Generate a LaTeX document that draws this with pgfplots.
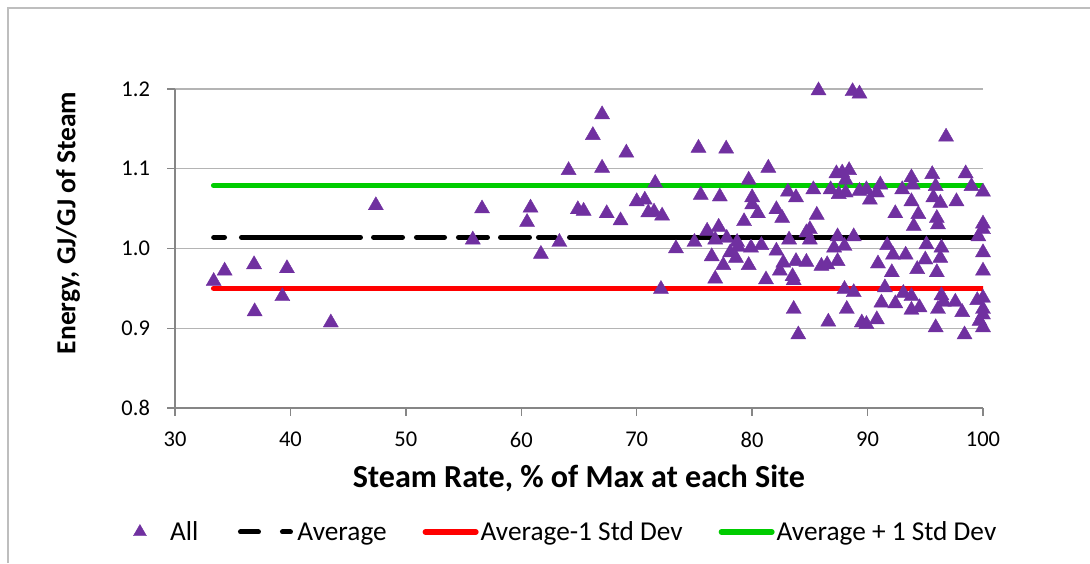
\documentclass[border=0pt]{standalone}
\usepackage{pgfplots}
\pgfplotsset{compat=1.18}
\usepackage{fontspec}
\setmainfont{Carlito}
\definecolor{mypurple}{RGB}{112,48,160}
\definecolor{mygreen}{RGB}{0,204,0}
\definecolor{myred}{RGB}{255,0,0}
\definecolor{axisgray}{RGB}{134,134,134}
\definecolor{gridgray}{RGB}{180,180,180}
\definecolor{framegray}{RGB}{190,190,190}
\pgfplotsset{
  scatterlegend/.style={legend image code/.code={\path (0pt,0pt) (56pt,0pt); \draw[mark repeat=2,mark phase=2,##1, mark size=7.5pt] plot coordinates {(0pt,0pt) (28pt,0pt) (56pt,0pt)};}},
  avglegend/.style={legend image code/.code={\draw[black, line width=5pt, line cap=round] (3.5pt,0pt) -- (21.5pt,0pt); \draw[black, line width=5pt, line cap=round] (45.5pt,0pt) -- (53.5pt,0pt); \path (0pt,0pt) (56pt,0pt);}},
  linelegend/.style={legend image code/.code={\draw[##1, line cap=round] (2.75pt,0pt) -- (53.25pt,0pt);}},
}
\begin{document}
\begin{tikzpicture}[x=1pt,y=1pt]
\path[use as bounding box] (0,0) rectangle (1090,563);
\draw[framegray, line width=1.3pt] (8,0) -- (8,555) -- (1090,555);
\begin{axis}[
  at={(175pt,155pt)}, anchor=south west,
  scale only axis, width=808pt, height=319pt,
  xmin=30, xmax=100, ymin=0.8, ymax=1.2,
  xtick={30,40,...,100}, ytick={0.8,0.9,1.0,1.1,1.2},
  axis lines=left,
  axis line style={-, draw=axisgray, line width=1.5pt},
  tick align=outside, tick pos=left,
  major tick length=7.5pt,
  every tick/.style={axisgray, line width=1.3pt},
  ymajorgrids,
  major grid style={gridgray, line width=1.3pt},
  /pgf/number format/assume math mode=true,
  yticklabel style={/pgf/number format/.cd, fixed, fixed zerofill, precision=1, /tikz/.cd, xshift=-14pt},
  xticklabel style={yshift=-13pt},
  ticklabel style={font=\fontsize{22.5}{26}\selectfont},
  xlabel={\textbf{Steam Rate, \% of Max at each Site}},
  ylabel={\textbf{Energy, GJ/GJ of Steam}},
  xlabel style={font=\fontsize{32.1}{36}\selectfont, at={(axis description cs:0.5,-0.2194)}, anchor=center},
  ylabel style={font=\fontsize{27.5}{32}\selectfont, at={(axis description cs:-0.1324,0.58)}, anchor=center},
  unbounded coords=jump,
  legend columns=4,
  legend style={at={(axis description cs:0.4703,-0.3887)}, anchor=center, draw=none,
    font=\fontsize{27.3}{32}\selectfont, inner sep=0pt,
    nodes={inner sep=2pt},
    /tikz/every even column/.append style={column sep=34pt}},
  linelegend,
]
\addplot[only marks, mark=triangle*, mark size=8.7pt,
  mark options={fill=mypurple, draw=mypurple, line width=0.4pt}, scatterlegend]
coordinates {
(33.35,0.959) (34.3,0.972) (36.85,0.980) (36.9,0.921) (39.7,0.975) (39.3,0.940)
(43.5,0.907) (47.4,1.054) (55.8,1.011) (56.6,1.050) (60.5,1.033) (60.8,1.051)
(61.7,0.993) (63.3,1.008) (64.1,1.098) (64.9,1.049) (65.4,1.047) (66.2,1.142)
(67.0,1.168) (67.0,1.101) (67.4,1.044) (68.6,1.035) (69.1,1.120)
(75.35,1.126) (77.75,1.125) (85.75,1.198) (81.4,1.101) (71.6,1.082) (79.7,1.086)
(83.1,1.071) (85.3,1.074) (70.0,1.059) (70.7,1.061) (75.55,1.067) (77.2,1.065)
(80.0,1.064) (83.8,1.064) (71.0,1.045) (71.5,1.046) (72.2,1.041) (80.0,1.055)
(80.5,1.044) (82.1,1.049) (82.6,1.038) (79.3,1.034) (85.6,1.042) (85.0,1.024)
(84.7,1.020) (85.0,1.011) (76.1,1.022) (77.1,1.027) (76.8,1.011) (77.8,1.013)
(78.7,1.008) (75.0,1.008) (73.4,1.000) (78.8,1.002) (79.9,1.001) (80.8,1.004)
(83.2,1.011) (82.1,0.997) (76.5,0.990) (78.1,0.995) (78.6,0.988) (77.5,0.979)
(79.7,0.979) (82.7,0.982) (83.8,0.984) (84.7,0.983) (86.0,0.978) (86.5,0.980)
(82.4,0.972) (83.5,0.965) (83.6,0.960) (76.8,0.962) (81.2,0.961) (72.1,0.949)
(83.6,0.924) (84.0,0.892) (86.6,0.908)
(88.7,1.197) (89.3,1.194) (96.8,1.140) (87.3,1.094) (87.8,1.095) (88.4,1.098)
(88.1,1.086) (86.8,1.074) (87.5,1.068) (88.1,1.070) (89.3,1.072) (89.9,1.074)
(90.2,1.061) (90.8,1.070) (91.1,1.080) (93.0,1.074) (93.8,1.089) (93.9,1.080)
(93.8,1.059) (92.4,1.044) (94.4,1.043) (94.0,1.028) (95.6,1.093) (95.9,1.078)
(95.7,1.064) (96.3,1.057) (96.0,1.038) (96.1,1.030) (97.7,1.059) (98.5,1.094)
(99.0,1.078) (100.0,1.071) (100.0,1.031) (99.6,1.015) (100.0,1.024) (100.0,0.995)
(100.0,0.972) (87.4,1.015) (88.8,1.015) (87.1,1.001) (88.0,1.003) (87.4,0.984)
(91.7,1.004) (92.2,0.992) (93.3,0.992) (90.9,0.981) (92.1,0.970) (94.3,0.974)
(95.0,0.986) (95.1,1.005) (96.4,1.001) (96.3,0.988) (96.0,0.970) (88.0,0.949)
(88.8,0.945) (91.5,0.951) (93.1,0.944) (93.8,0.940) (91.2,0.932) (92.4,0.931)
(94.5,0.926) (93.8,0.923) (96.4,0.941) (96.6,0.933) (96.1,0.924) (97.6,0.933)
(98.2,0.920) (99.5,0.935) (100.0,0.938) (100.0,0.924) (100.0,0.917) (99.7,0.909)
(100.0,0.901) (88.2,0.924) (89.5,0.907) (89.9,0.905) (90.8,0.911) (95.9,0.901)
(98.4,0.892)
};
\addlegendentry{All}
\addplot[black, line width=5pt, line cap=round, avglegend]
coordinates {
(33.35,1.014) (34.29,1.014) (35.0,nan)
(35.76,1.014) (46.07,1.014) (46.6,nan)
(47.20,1.014) (49.71,1.014) (50.3,nan)
(50.92,1.014) (53.35,1.014) (54.0,nan)
(54.56,1.014) (57.07,1.014) (57.6,nan)
(58.20,1.014) (60.71,1.014) (61.1,nan)
(61.49,1.014) (62.96,1.014) (63.5,nan)
(64.18,1.014) (100,1.014)
};
\addlegendentry{Average}
\addplot[myred, line width=5.5pt, line cap=round] coordinates {(33.35,0.950) (100,0.950)};
\addlegendentry{Average-1 Std Dev}
\addplot[mygreen, line width=5.5pt, line cap=round] coordinates {(33.35,1.079) (100,1.079)};
\addlegendentry{Average + 1 Std Dev}
\end{axis}
\end{tikzpicture}
\end{document}
